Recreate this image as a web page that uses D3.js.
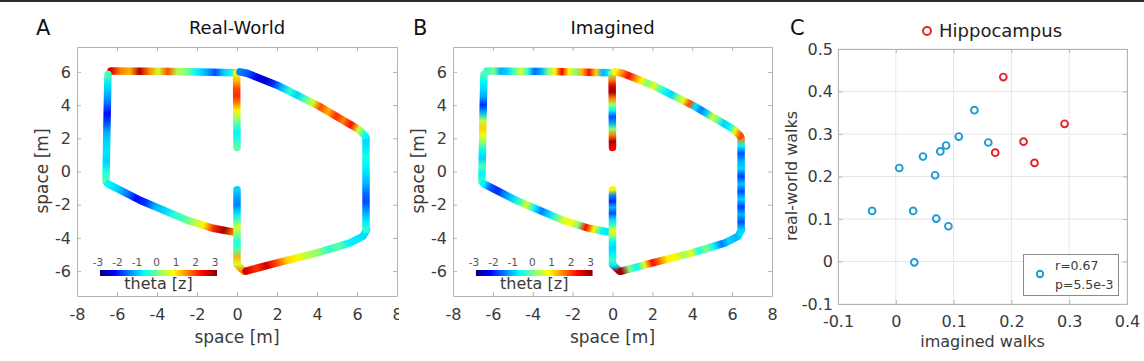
<!DOCTYPE html>
<html>
<head>
<meta charset="utf-8">
<script src="https://cdn.jsdelivr.net/npm/d3@7"></script>
<style>
body { margin: 0; background: #fff; }
svg { display: block; font-family: "DejaVu Sans", sans-serif; }
</style>
</head>
<body>
<script>
// ---- data ----
const spaceTicks = [-8, -6, -4, -2, 0, 2, 4, 6, 8]
const thetaTicks = [-3, -2, -1, 0, 1, 2, 3]
const imaginedTicks = [-0.1, 0, 0.1, 0.2, 0.3, 0.4]
const realTicks = [-0.1, 0, 0.1, 0.2, 0.3, 0.4, 0.5]

// walked route, metres (one array per stretch of the track)
const segTop = [[-6.3, 6.05], [-3, 6.02], [-0.15, 5.95]]
const segLeft = [[-6.45, 5.85], [-6.5, 3], [-6.55, -0.6]]
const segLowerLeft = [[-6.45, -0.75], [-4.85, -1.73], [-2.5, -2.93], [-1.2, -3.42], [-0.15, -3.65]]
const segCenterTop = [[0, 1.45], [-0.02, 5.9]]
const segCenterBottom = [[0, -1.1], [0, -5.6], [0.35, -6.0]]
const segBottom = [[0.45, -6.0], [2.0, -5.5], [4.0, -4.9], [5.65, -4.3], [6.3, -3.9], [6.48, -3.5]]
const segRight = [[6.45, -3.5], [6.45, 2.0]]
const segUpperRight = [[6.4, 2.15], [6.07, 2.55], [4.0, 4.0], [2.0, 5.2], [0.5, 5.92], [0.15, 6.0]]

// theta [z] along each stretch, real-world walks
const realTop = [2.5, 1.5, 1.2, 2.7, 1.5, 0.5, 1.8, 0.3, 0, -0.8, -1.2, -1.8, -1, -0.5]
const realLeft = [-0.3, -0.9, -1.2, -1.6, -2.2, -1.8, -1.2, -1.0, -0.9, -1.0, -0.6, -0.2]
const realLowerLeft = [-0.8, -1.0, -1.5, -2.2, -2.0, -1.2, -1.0, -0.5, -0.3, 0.2, 0.8, 2.0, 2.8, 1.5]
const realCenterTop = [-0.2, -0.5, -0.8, -0.4, 0.2, 0.8, 1.5, 2.0, 1.8, 1.2, 0.8]
const realCenterBottom = [-1.0, -1.3, -1.5, -1.0, -0.4, 0.5, 0, -0.6, -0.3, 1.2, 0.5, 1.5]
const realBottom = [2.5, 2.0, 2.5, 1.8, 1.0, 0.8, 0.3, 0.1, -0.5, -0.2, -0.8, -0.9, -1.0]
const realRight = [-0.5, -0.9, -1.3, -1.8, -1.6, -1.2, -1.0, -0.8, -0.6, -0.9, -1.0]
const realUpperRight = [-0.8, 0.5, 2.2, 1.5, 2.0, 1.2, 1.8, 0.5, -0.3, -1.0, -0.5, -1.2, -2.0, -2.6, -2.3, -1.8, -1.5]

// theta [z] along each stretch, imagined walks
const imagTop = [-0.5, 0, -1.2, -1.0, -0.3, 0.5, -0.5, -1.6, -1.2, 0, 0.8, 2.3, 0.8, 0, 1.2, 2.2, 1.0, -1.2, -0.8]
const imagLeft = [-0.3, -0.8, -1.0, -1.3, -2.0, -1.2, 0.3, 1.0, 0.6, 0, -0.8, -1.0, -0.3, -0.8, -0.4]
const imagLowerLeft = [-0.8, -1.8, -2.0, -1.4, -1.0, -0.4, 0.5, -0.8, -1.5, -1.0, -0.3, 0.5, 0.7, 0, 2.2, 0.8, -0.8, -0.9]
const imagCenterTop = [2.3, 2.7, 1.5, 0, -1.3, -1.8, -0.8, 0.2, 1.5, 2.8, 2.5, 1.5, 0]
const imagCenterBottom = [0.8, -1.5, -2.0, -1.2, -1.8, -1.0, -0.5, 0.8, 0, -0.8, -1.0, -0.8, -0.4, -0.9, 2.8]
const imagBottom = [2.8, 0, -0.8, 0.6, 2.2, 1.5, 0.8, 0.8, 0.2, 0.6, -0.6, 0, -0.8, -1.5, -1.0, -1.2, -0.8]
const imagRight = [-1.0, -1.8, -1.2, -1.9, -1.0, -1.8, -1.1, -1.9, -1.0, -1.2, -1.8, -0.8, 1.5]
const imagUpperRight = [1.8, 0.6, -0.8, -1.0, -0.2, 0.5, -1.0, -1.5, -0.9, 1.8, 0.6, 0, -1.0, -0.8, -0.2, 0.6, 0, 0.8, 1.5, 2.2, 1.5, 0.8]

// panel C: subjects
const otherImagined = [-0.041, 0.006, 0.030, 0.032, 0.047, 0.068, 0.070, 0.077, 0.087, 0.091, 0.109, 0.136, 0.160]
const otherReal = [0.119, 0.220, 0.119, -0.002, 0.247, 0.203, 0.101, 0.259, 0.273, 0.083, 0.294, 0.356, 0.280]
const hippoImagined = [0.186, 0.172, 0.221, 0.240, 0.292]
const hippoReal = [0.434, 0.256, 0.282, 0.232, 0.324]
const statsText = ['r=0.67', 'p=5.5e-3']

// ---- drawing ----
const svg = d3.select('body').append('svg').attr('width', 1144).attr('height', 361)
const defs = svg.append('defs')

// jet colour map
const jet = d3.scaleLinear()
    .domain([-3, -2.25, -0.75, 0.75, 2.25, 3])
    .range(['#000080', '#0000ff', '#00ffff', '#ffff00', '#ff0000', '#800000'])
    .clamp(true)

defs.append('filter').attr('id', 'soft')
    .append('feGaussianBlur').attr('stdDeviation', 0.5)

const boxColor = '#b4b4b4'
const labelColor = '#3a3a3a'

// plain hyphen minus like the original figure
const hy = d => String(d).replace('\u2212', '-')
const intFmt = d => hy(d3.format('d')(d))
const decFmt = d => (d === 0 ? '0' : hy(d3.format('.1f')(d)))

svg.append('rect').attr('x', 0).attr('y', 0).attr('width', 1144).attr('height', 2).attr('fill', '#2a2a2a')

function styleAxis(g) {
    g.selectAll('path.domain').attr('stroke', boxColor)
    g.selectAll('.tick line').attr('stroke', boxColor)
    g.selectAll('.tick text').attr('fill', labelColor).attr('font-size', 16)
        .attr('font-family', '"DejaVu Sans", sans-serif')
}

function drawTrack(key, left, right, letter, letterX, title, thetas) {
    const x = d3.scaleLinear().domain([-8, 8]).range([left, right])
    const y = d3.scaleLinear().domain([-7.5, 7.5]).range([296, 47])
    const g = svg.append('g')

    g.append('g').attr('transform', 'translate(0,296)')
        .call(d3.axisBottom(x).tickValues(spaceTicks).tickFormat(intFmt).tickSizeInner(-4).tickSizeOuter(0).tickPadding(13))
        .call(styleAxis)
    g.append('g').attr('transform', 'translate(0,47)')
        .call(d3.axisTop(x).tickValues(spaceTicks).tickSizeInner(-4).tickSizeOuter(0).tickFormat(''))
        .call(styleAxis)
    g.append('g').attr('transform', `translate(${left},0)`)
        .call(d3.axisLeft(y).tickValues(spaceTicks.slice(1, -1)).tickFormat(intFmt).tickSizeInner(-4).tickSizeOuter(0).tickPadding(6))
        .call(styleAxis)
    g.append('g').attr('transform', `translate(${right},0)`)
        .call(d3.axisRight(y).tickValues(spaceTicks.slice(1, -1)).tickSizeInner(-4).tickSizeOuter(0).tickFormat(''))
        .call(styleAxis)

    const segs = [segTop, segLeft, segLowerLeft, segCenterTop, segCenterBottom, segBottom, segRight, segUpperRight]
    const track = g.append('g').attr('filter', 'url(#soft)')
    segs.forEach((seg, i) => {
        const pts = seg.map(p => [x(p[0]), y(p[1])])
        const th = thetas[i]
        const id = `grad-${key}-${i}`
        const grad = defs.append('linearGradient').attr('id', id)
            .attr('gradientUnits', 'userSpaceOnUse')
            .attr('x1', pts[0][0]).attr('y1', pts[0][1])
            .attr('x2', pts[pts.length - 1][0]).attr('y2', pts[pts.length - 1][1])
        th.forEach((t, j) => grad.append('stop')
            .attr('offset', j / (th.length - 1))
            .attr('stop-color', jet(t)))
        track.append('path')
            .attr('d', d3.line()(pts))
            .attr('fill', 'none')
            .attr('stroke', `url(#${id})`)
            .attr('stroke-width', 7.5)
            .attr('stroke-linecap', 'round')
            .attr('stroke-linejoin', 'round')
    })

    // colour bar
    const cb = d3.scaleLinear().domain([-3, 3]).range([x(-6.85), x(-1.0)])
    const cbId = `cbar-${key}`
    const cg = defs.append('linearGradient').attr('id', cbId)
    jet.domain().forEach(v => cg.append('stop')
        .attr('offset', (v + 3) / 6).attr('stop-color', jet(v)))
    g.append('rect')
        .attr('x', cb(-3)).attr('y', 270)
        .attr('width', cb(3) - cb(-3)).attr('height', 6)
        .attr('fill', `url(#${cbId})`)
    g.selectAll('.cbt').data(thetaTicks).enter().append('text')
        .attr('x', d => cb(d) - 2).attr('y', 266)
        .attr('text-anchor', 'middle').attr('font-size', 10.5).attr('fill', '#555')
        .text(d => intFmt(d))
    g.append('text').attr('x', (cb(-3) + cb(3)) / 2).attr('y', 289)
        .attr('text-anchor', 'middle').attr('font-size', 16).attr('fill', labelColor)
        .text('theta [z]')

    g.append('text').attr('x', x(0)).attr('y', 343)
        .attr('text-anchor', 'middle').attr('font-size', 17).attr('fill', labelColor)
        .text('space [m]')
    g.append('text').attr('transform', `translate(${left - 29},171) rotate(-90)`)
        .attr('text-anchor', 'middle').attr('font-size', 17).attr('fill', labelColor)
        .text('space [m]')
    g.append('text').attr('x', x(0)).attr('y', 34)
        .attr('text-anchor', 'middle').attr('font-size', 18).attr('fill', '#111')
        .text(title)
    g.append('text').attr('x', letterX).attr('y', 35)
        .attr('font-size', 21).attr('fill', '#111')
        .text(letter)
}

drawTrack('real', 77, 397, 'A', 36, 'Real-World',
    [realTop, realLeft, realLowerLeft, realCenterTop, realCenterBottom, realBottom, realRight, realUpperRight])
// panel B picture sits over the right edge of A
svg.append('rect').attr('x', 399).attr('y', 300).attr('width', 12).attr('height', 35).attr('fill', '#fff')
drawTrack('imag', 453, 772, 'B', 413, 'Imagined',
    [imagTop, imagLeft, imagLowerLeft, imagCenterTop, imagCenterBottom, imagBottom, imagRight, imagUpperRight])

// ---- panel C ----
const cx = d3.scaleLinear().domain([-0.1, 0.4]).range([838, 1127])
const cy = d3.scaleLinear().domain([-0.1, 0.5]).range([304, 49])
const pc = svg.append('g')

pc.append('g').selectAll('line.vg').data(imaginedTicks).enter().append('line')
    .attr('x1', d => cx(d)).attr('x2', d => cx(d)).attr('y1', cy(0.5)).attr('y2', cy(-0.1))
    .attr('stroke', '#e6e6e6')
pc.append('g').selectAll('line.hg').data(realTicks).enter().append('line')
    .attr('x1', cx(-0.1)).attr('x2', cx(0.4)).attr('y1', d => cy(d)).attr('y2', d => cy(d))
    .attr('stroke', '#e6e6e6')

pc.append('g').attr('transform', `translate(0,${cy(-0.1)})`)
    .call(d3.axisBottom(cx).tickValues(imaginedTicks).tickFormat(decFmt).tickSizeInner(-4).tickSizeOuter(0).tickPadding(12))
    .call(styleAxis)
pc.append('g').attr('transform', `translate(0,${cy(0.5)})`)
    .call(d3.axisTop(cx).tickValues(imaginedTicks).tickFormat('').tickSizeInner(-4).tickSizeOuter(0))
    .call(styleAxis)
pc.append('g').attr('transform', `translate(${cx(-0.1)},0)`)
    .call(d3.axisLeft(cy).tickValues(realTicks).tickFormat(decFmt).tickSizeInner(-4).tickSizeOuter(0).tickPadding(5))
    .call(styleAxis)
pc.append('g').attr('transform', `translate(${cx(0.4)},0)`)
    .call(d3.axisRight(cy).tickValues(realTicks).tickFormat('').tickSizeInner(-4).tickSizeOuter(0))
    .call(styleAxis)

const blue = '#1e9bd4'
const red = '#e5232d'

pc.selectAll('circle.other').data(otherImagined).enter().append('circle')
    .attr('cx', d => cx(d)).attr('cy', (d, i) => cy(otherReal[i])).attr('r', 3.4)
    .attr('fill', 'none').attr('stroke', blue).attr('stroke-width', 1.9)
pc.selectAll('circle.hippo').data(hippoImagined).enter().append('circle')
    .attr('cx', d => cx(d)).attr('cy', (d, i) => cy(hippoReal[i])).attr('r', 3.4)
    .attr('fill', 'none').attr('stroke', red).attr('stroke-width', 1.9)

// legend
pc.append('rect').attr('x', 1023.5).attr('y', 254.5).attr('width', 95).attr('height', 41)
    .attr('fill', '#fff').attr('stroke', '#8a8a8a')
pc.append('circle').attr('cx', 1040).attr('cy', 274).attr('r', 3.2)
    .attr('fill', 'none').attr('stroke', blue).attr('stroke-width', 1.9)
pc.selectAll('text.stat').data(statsText).enter().append('text')
    .attr('x', 1055).attr('y', (d, i) => 270 + i * 19)
    .attr('font-size', 12.5).attr('fill', labelColor)
    .text(d => d)

// title legend
pc.append('circle').attr('cx', 927).attr('cy', 31).attr('r', 4)
    .attr('fill', 'none').attr('stroke', red).attr('stroke-width', 2)
pc.append('text').attr('x', 939).attr('y', 37).attr('font-size', 18).attr('fill', '#222')
    .text('Hippocampus')
pc.append('text').attr('x', 790).attr('y', 35).attr('font-size', 21).attr('fill', '#111').text('C')

pc.append('text').attr('x', cx(0.15)).attr('y', 347)
    .attr('text-anchor', 'middle').attr('font-size', 16).attr('fill', labelColor)
    .text('imagined walks')
pc.append('text').attr('transform', 'translate(797,176) rotate(-90)')
    .attr('text-anchor', 'middle').attr('font-size', 16).attr('fill', labelColor)
    .text('real-world walks')
</script>
</body>
</html>
